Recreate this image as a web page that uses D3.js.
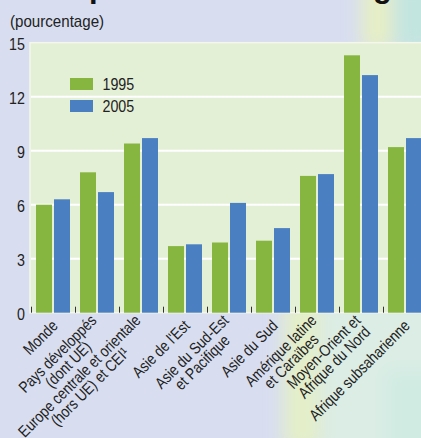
<!DOCTYPE html>
<html>
<head>
<meta charset="utf-8">
<script src="https://cdn.jsdelivr.net/npm/d3@7"></script>
<style>
  body { margin: 0; background: #d8def0; }
  svg { display: block; }
  text { font-family: "Liberation Sans", Arial, sans-serif; fill: #222; }
</style>
</head>
<body>
<div id="chart"></div>
<script>
var w = 421;
var h = 438;

// chômage par région, en %
var categories = ["Monde", "Pays développés (dont UE)", "Europe centrale et orientale (hors UE) et CEI¹",
  "Asie de l'Est", "Asie du Sud-Est et Pacifique", "Asie du Sud", "Amérique latine et Caraïbes",
  "Moyen-Orient et Afrique du Nord", "Afrique subsaharienne"];
var categoryLines = [["Monde"], ["Pays développés", "(dont UE)"], ["Europe centrale et orientale", "(hors UE) et CEI¹"],
  ["Asie de l'Est"], ["Asie du Sud-Est", "et Pacifique"], ["Asie du Sud"], ["Amérique latine", "et Caraïbes"],
  ["Moyen-Orient et", "Afrique du Nord"], ["Afrique subsaharienne"]];
var years = ["1995", "2005"];
var values1995 = [6.0, 7.8, 9.4, 3.7, 3.9, 4.0, 7.6, 14.3, 9.2];
var values2005 = [6.3, 6.7, 9.7, 3.8, 6.1, 4.7, 7.7, 13.2, 9.7];
var yTicks = [0, 3, 6, 9, 12, 15];

var colors = { "1995": "#86b640", "2005": "#4a7fc1" };
var narrow = 0.84; // squeeze text horizontally, the original font is condensed

var svg = d3.select("#chart").append("svg")
            .attr("width", w)
            .attr("height", h);

// decorative background
var defs = svg.append("defs");
defs.append("filter").attr("id", "blur").attr("x", "-50%").attr("y", "-50%").attr("width", "200%").attr("height", "200%")
    .append("feGaussianBlur").attr("stdDeviation", 9);

svg.append("rect").attr("width", w).attr("height", h).attr("fill", "#d8def0");
var deco = svg.append("g").attr("filter", "url(#blur)");
deco.append("rect").attr("x", 362).attr("y", -20).attr("width", 30).attr("height", 70).attr("fill", "#e6efc4");
deco.append("rect").attr("x", 395).attr("y", -20).attr("width", 50).attr("height", 70).attr("fill", "#c2e5df");
deco.append("rect").attr("x", 322).attr("y", 300).attr("width", 130).attr("height", 160).attr("fill", "#dcede5");
deco.append("rect").attr("x", 284).attr("y", 300).attr("width", 36).attr("height", 150).attr("fill", "#e4efc8");
deco.append("rect").attr("x", 385).attr("y", 370).attr("width", 60).attr("height", 90).attr("fill", "#d0ebe2");

// title, mostly cut off at the top
svg.append("text")
   .attr("x", 20)
   .attr("y", -3.5)
   .style("font-weight", "bold")
   .style("font-size", "31px")
   .style("fill", "#111")
   .text("Comparaison du chômage régional");

var x = d3.scaleBand().domain(categories).range([31, 427]);
var xSub = d3.scaleBand().domain(years).range([5, 39]).paddingInner(2 / 18);
var y = d3.scaleLinear().domain([0, 15]).range([312.7, 42.7]);

// plot area
svg.append("rect")
   .attr("x", 30)
   .attr("y", y(15))
   .attr("width", 400)
   .attr("height", y(0) - y(15))
   .attr("fill", "#e4f0d6")
   .attr("stroke", "#f3f7ec")
   .attr("stroke-width", 1.5);

svg.selectAll("line.grid")
   .data(yTicks.slice(1, -1))
   .enter()
   .append("line")
   .attr("class", "grid")
   .attr("x1", 31)
   .attr("x2", w)
   .attr("y1", function(d) { return y(d); })
   .attr("y2", function(d) { return y(d); })
   .attr("stroke", "#fff")
   .attr("stroke-width", 2);

svg.append("text")
   .attr("transform", "translate(10,26.5) scale(0.89,1)")
   .style("font-size", "17px")
   .text("(pourcentage)");

svg.selectAll("text.ytick")
   .data(yTicks)
   .enter()
   .append("text")
   .attr("class", "ytick")
   .attr("transform", function(d) { return "translate(25," + (y(d) + 1.5) + ") scale(" + narrow + ",1)"; })
   .attr("text-anchor", "end")
   .attr("dominant-baseline", "central")
   .style("font-size", "17px")
   .text(function(d) { return d; });

// bars
var rows = categories.map(function(c, i) {
  return { cat: c, vals: [{ year: "1995", v: values1995[i] }, { year: "2005", v: values2005[i] }] };
});

var groups = svg.selectAll("g.group")
                .data(rows)
                .enter()
                .append("g")
                .attr("class", "group")
                .attr("transform", function(d) { return "translate(" + x(d.cat) + ",0)"; });

groups.selectAll("rect")
      .data(function(d) { return d.vals; })
      .enter()
      .append("rect")
      .attr("x", function(d) { return xSub(d.year); })
      .attr("y", function(d) { return y(d.v); })
      .attr("width", xSub.bandwidth())
      .attr("height", function(d) { return y(0) - y(d.v); })
      .attr("fill", function(d) { return colors[d.year]; });

// small tick marks between categories
svg.selectAll("line.xtick")
   .data(categories)
   .enter()
   .append("line")
   .attr("class", "xtick")
   .attr("x1", function(d) { return x(d) + 0.5; })
   .attr("x2", function(d) { return x(d) + 0.5; })
   .attr("y1", y(0) - 6)
   .attr("y2", y(0))
   .attr("stroke", "#333")
   .attr("stroke-width", 1);

// legend
var legend = svg.selectAll("g.legend")
                .data(years)
                .enter()
                .append("g")
                .attr("class", "legend")
                .attr("transform", function(d, i) { return "translate(70," + (78 + i * 22) + ")"; });
legend.append("rect")
      .attr("width", 23)
      .attr("height", 12)
      .attr("fill", function(d) { return colors[d]; });
legend.append("text")
      .attr("transform", "translate(32.5,6.5) scale(" + narrow + ",1)")
      .attr("dominant-baseline", "central")
      .style("font-size", "17px")
      .text(function(d) { return d; });

// category labels, rotated
var labels = svg.selectAll("g.catlabel")
                .data(categories)
                .enter()
                .append("g")
                .attr("class", "catlabel")
                .attr("transform", function(d) {
                  return "translate(" + (x(d) + x.bandwidth() / 2 + 2) + ",323) rotate(-45) scale(" + narrow + ",1)";
                });

labels.each(function(d, i) {
  var g = d3.select(this);
  var lines = categoryLines[i];
  var texts = g.selectAll("text")
               .data(lines)
               .enter()
               .append("text")
               .attr("text-anchor", "middle")
               .attr("dominant-baseline", "central")
               .attr("y", function(l, j) { return (j - (lines.length - 1) / 2) * 15; })
               .style("font-size", "16px")
               .text(function(l) { return l; });
  var maxW = 0;
  texts.each(function() { maxW = Math.max(maxW, this.getComputedTextLength()); });
  texts.attr("x", -maxW / 2);
});
</script>
</body>
</html>
